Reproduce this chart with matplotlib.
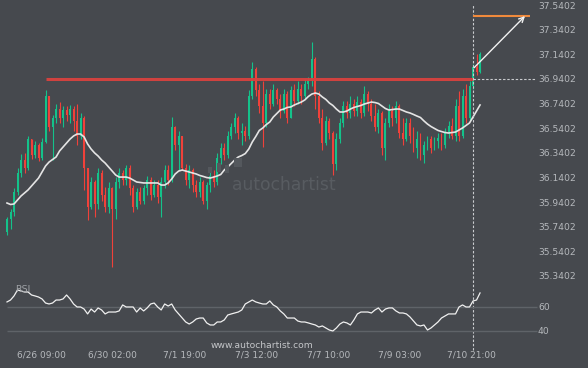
import numpy as np
import matplotlib
matplotlib.use("Agg")
import matplotlib.pyplot as plt
from matplotlib.patches import Rectangle

# ---------------- data ----------------
first_open = 35.70
closes = [35.80, 35.86, 36.02, 36.18, 36.28, 36.22, 36.45, 36.32, 36.40, 36.30,
          36.43, 36.80, 36.55, 36.62, 36.70, 36.62, 36.69, 36.65, 36.70, 36.60,
          36.48, 36.62, 36.22, 35.90, 36.10, 35.92, 36.18, 36.00, 35.90, 36.05,
          35.88, 36.10, 36.18, 36.12, 36.22, 36.05, 35.90, 36.02, 35.95, 36.05,
          36.12, 36.00, 36.08, 35.98, 36.10, 36.20, 36.12, 36.55, 36.40, 36.48,
          36.22, 36.12, 36.20, 36.08, 36.02, 36.10, 35.95, 36.08, 36.15, 36.10,
          36.30, 36.38, 36.32, 36.48, 36.55, 36.62, 36.50, 36.52, 36.48, 36.80,
          37.02, 36.85, 36.72, 36.58, 36.82, 36.74, 36.85, 36.78, 36.68, 36.82,
          36.62, 36.85, 36.76, 36.86, 36.80, 36.90, 36.92, 37.10, 36.80, 36.62,
          36.42, 36.60, 36.50, 36.25, 36.45, 36.58, 36.72, 36.66, 36.74, 36.68,
          36.75, 36.66, 36.82, 36.74, 36.64, 36.55, 36.66, 36.38, 36.58, 36.68,
          36.62, 36.72, 36.50, 36.45, 36.58, 36.48, 36.38, 36.45, 36.32, 36.40,
          36.45, 36.38, 36.44, 36.46, 36.40, 36.50, 36.56, 36.48, 36.72, 36.48,
          36.80, 36.62, 36.88, 37.04, 37.00, 37.14]
highs = [35.82, 35.88, 36.05, 36.22, 36.33, 36.34, 36.48, 36.43, 36.44, 36.42,
         36.46, 36.85, 36.80, 36.65, 36.74, 36.75, 36.72, 36.72, 36.73, 36.72,
         36.74, 36.66, 36.64, 36.18, 36.14, 36.12, 36.22, 36.20, 36.06, 36.10,
         36.06, 36.14, 36.22, 36.20, 36.24, 36.24, 36.08, 36.05, 36.06, 36.08,
         36.15, 36.14, 36.12, 36.12, 36.14, 36.24, 36.24, 36.63, 36.56, 36.52,
         36.46, 36.25, 36.24, 36.22, 36.12, 36.14, 36.12, 36.10, 36.20, 36.20,
         36.34, 36.42, 36.42, 36.52, 36.58, 36.66, 36.64, 36.58, 36.56, 36.85,
         37.08, 37.04, 36.90, 36.92, 36.86, 36.86, 36.90, 36.87, 36.82, 36.86,
         36.84, 36.88, 36.90, 36.92, 36.90, 36.94, 36.96, 37.24, 37.12, 36.84,
         36.70, 36.64, 36.62, 36.52, 36.50, 36.62, 36.76, 36.76, 36.80, 36.78,
         36.80, 36.78, 36.88, 36.84, 36.78, 36.74, 36.70, 36.68, 36.62, 36.74,
         36.72, 36.76, 36.74, 36.62, 36.62, 36.62, 36.55, 36.52, 36.50, 36.44,
         36.48, 36.48, 36.47, 36.50, 36.50, 36.54, 36.60, 36.62, 36.78, 36.84,
         36.86, 36.90, 36.92, 37.06, 37.14, 37.16]
lows = [35.67, 35.72, 35.83, 36.00, 36.14, 36.18, 36.20, 36.29, 36.30, 36.27,
        36.28, 36.42, 36.52, 36.28, 36.58, 36.58, 36.55, 36.60, 36.58, 36.52,
        36.40, 36.45, 36.04, 35.79, 35.88, 35.82, 35.88, 35.95, 35.86, 35.85,
        35.41, 35.80, 36.05, 36.08, 36.08, 36.00, 35.86, 35.88, 35.92, 35.92,
        36.00, 35.96, 35.98, 35.93, 35.82, 36.05, 36.08, 36.10, 36.36, 36.20,
        36.20, 36.08, 36.05, 36.02, 35.98, 35.98, 35.92, 35.88, 36.02, 36.06,
        36.08, 36.25, 36.28, 36.30, 36.45, 36.50, 36.45, 36.40, 36.44, 36.45,
        36.78, 36.80, 36.66, 36.39, 36.55, 36.70, 36.72, 36.74, 36.62, 36.66,
        36.58, 36.62, 36.72, 36.74, 36.74, 36.78, 36.86, 36.88, 36.70, 36.58,
        36.36, 36.40, 36.45, 36.16, 36.20, 36.42, 36.55, 36.62, 36.62, 36.64,
        36.64, 36.62, 36.64, 36.68, 36.60, 36.52, 36.50, 36.32, 36.28, 36.55,
        36.56, 36.58, 36.46, 36.40, 36.44, 36.42, 36.35, 36.30, 36.28, 36.26,
        36.36, 36.34, 36.36, 36.38, 36.36, 36.38, 36.46, 36.45, 36.44, 36.44,
        36.46, 36.58, 36.60, 36.86, 36.97, 36.99]
moving_avg = [35.932, 35.920, 35.924, 35.956, 35.989, 36.013, 36.038, 36.070, 36.103, 36.135,
              36.184, 36.233, 36.265, 36.286, 36.306, 36.355, 36.387, 36.420, 36.452, 36.477,
              36.493, 36.493, 36.469, 36.412, 36.371, 36.339, 36.314, 36.282, 36.257, 36.225,
              36.192, 36.160, 36.143, 36.143, 36.143, 36.135, 36.119, 36.103, 36.099, 36.095,
              36.095, 36.095, 36.095, 36.095, 36.078, 36.078, 36.095, 36.127, 36.168, 36.192,
              36.200, 36.192, 36.184, 36.176, 36.168, 36.156, 36.148, 36.139, 36.135, 36.143,
              36.152, 36.164, 36.200, 36.225, 36.253, 36.282, 36.306, 36.318, 36.334, 36.371,
              36.428, 36.473, 36.522, 36.542, 36.570, 36.591, 36.631, 36.660, 36.688, 36.696,
              36.709, 36.713, 36.729, 36.741, 36.753, 36.770, 36.798, 36.818, 36.826, 36.818,
              36.794, 36.774, 36.745, 36.725, 36.696, 36.672, 36.672, 36.680, 36.696, 36.709,
              36.717, 36.725, 36.737, 36.745, 36.753, 36.749, 36.741, 36.721, 36.700, 36.688,
              36.692, 36.696, 36.696, 36.684, 36.672, 36.664, 36.652, 36.639, 36.627, 36.599,
              36.574, 36.554, 36.538, 36.522, 36.513, 36.505, 36.501, 36.505, 36.509, 36.526,
              36.542, 36.562, 36.583, 36.631, 36.680, 36.729]
rsi = [63.8, 65.4, 68.8, 73.8, 72.9, 72.1, 72.1, 69.6, 68.8, 67.9,
       66.3, 62.9, 62.1, 62.9, 65.4, 65.4, 66.3, 69.6, 66.3, 62.1,
       59.6, 59.6, 57.9, 53.8, 57.9, 55.4, 58.8, 57.1, 53.8, 55.4,
       55.4, 55.4, 56.3, 61.3, 59.6, 59.6, 59.6, 55.4, 58.8, 56.3,
       58.8, 62.1, 62.9, 59.6, 57.1, 62.1, 60.4, 62.1, 57.1, 53.8,
       50.4, 47.1, 45.4, 47.1, 49.6, 50.4, 50.4, 46.3, 44.6, 44.6,
       47.1, 47.1, 48.8, 52.9, 53.8, 54.6, 55.4, 57.1, 62.1, 63.8,
       65.4, 63.8, 62.9, 62.1, 62.1, 64.6, 61.3, 59.6, 56.3, 53.8,
       50.4, 50.4, 50.4, 47.9, 47.1, 47.1, 46.3, 45.4, 44.6, 42.9,
       43.8, 42.1, 40.4, 39.6, 42.1, 45.4, 47.1, 46.3, 44.6, 48.8,
       53.8, 55.4, 55.4, 55.4, 54.6, 57.1, 58.8, 55.4, 57.9, 58.8,
       58.8, 56.3, 54.6, 54.6, 53.8, 51.3, 47.9, 44.6, 43.8, 44.6,
       40.4, 42.1, 44.6, 47.1, 50.4, 52.1, 53.8, 53.8, 53.8, 59.6,
       61.3, 59.6, 59.6, 64.6, 65.4, 71.3]

resistance = 36.9402
target = 37.452
arrow_start = 37.032
price_ticks = [35.3402, 35.5402, 35.7402, 35.9402, 36.1402, 36.3402,
               36.5402, 36.7402, 36.9402, 37.1402, 37.3402, 37.5402]
rsi_ticks = [40, 60]
date_labels = ["6/26 09:00", "6/30 02:00", "7/1 19:00", "7/3 12:00",
               "7/7 10:00", "7/9 03:00", "7/10 21:00"]
breakout_idx = 133

# ---------------- style ----------------
BG = "#46494e"
GREEN = "#14c28a"
RED = "#f0413a"
TXT = "#b6b9bd"

W, H = 588, 368
spacing = 3.504          # px per candle
x0_px = 7
fig = plt.figure(figsize=(W / 100, H / 100), dpi=100)
fig.patch.set_facecolor(BG)

ax = fig.add_axes([0, 0, 1, 1])
ax.set_facecolor(BG)
axr = fig.add_axes([0, 0, 1, 1], sharex=ax)
axr.patch.set_alpha(0)

ax.set_xlim(-x0_px / spacing, (W - x0_px) / spacing)
ppu = 123.0
ax.set_ylim(36.9402 - (H - 79) / ppu, 36.9402 + 79 / ppu)
rpu = 1.2
axr.set_ylim(60 - (H - 306.5) / rpu, 60 + 306.5 / rpu)

for a in (ax, axr):
    for s in a.spines.values():
        s.set_visible(False)

# watermark (logo bars + word), pixel coords from bottom-left
WM = "#54585d"
for (bx, by, bw, bh_) in [(208, H - 173, 4, 6), (217, H - 172, 4, 9),
                          (225, H - 173, 4, 8), (234, H - 167, 8, 9)]:
    fig.patches.append(Rectangle((bx, by), bw, bh_, transform=None,
                                 facecolor=WM, edgecolor="none", zorder=0.5))
ax.text(284, H - 185, "autochartist", transform=None, fontsize=12.3, color="#585c61",
        ha="center", va="center", zorder=0.5)

# candles
n = len(closes)
idx = np.arange(n)
opens = [first_open] + closes[:-1]
o = np.array(opens)
c = np.array(closes)
h = np.maximum(np.array(highs), np.maximum(o, c))
l = np.minimum(np.array(lows), np.minimum(o, c))
cols = [GREEN if cc >= oo else RED for oo, cc in zip(o, c)]
ax.vlines(idx, l, h, colors=cols, linewidth=0.8, zorder=2)
bh = np.abs(c - o)
bh = np.where(bh < 0.008, 0.008, bh)
ax.bar(idx, bh, bottom=np.minimum(o, c), width=0.55, color=cols,
       linewidth=0, zorder=2)

# moving average
ax.plot(np.arange(len(moving_avg)), moving_avg, color="#e4e4e4", lw=1.2, zorder=3)

# resistance line
ax.hlines(resistance, 11.1, breakout_idx, color="#d9423f", lw=2.2, alpha=0.95, zorder=4)
ax.hlines(resistance, breakout_idx, (536 - x0_px) / spacing, color="#c9cbce",
          lw=0.8, linestyles=(0, (2.2, 1.6)), zorder=4)
ax.axvline(breakout_idx, ymin=1 - 350 / H, ymax=1 - 5 / H, color="#c9cbce",
           lw=0.8, ls=(0, (2.2, 1.6)), zorder=4)
# target line and arrow
ax.hlines(target, breakout_idx, (530 - x0_px) / spacing, color="#f08a3c", lw=1.5, zorder=4)
ax.annotate("", xy=((525 - x0_px) / spacing, target), xytext=(breakout_idx + 0.3, arrow_start),
            arrowprops=dict(arrowstyle="->", color="#f2f2f2", lw=1.0,
                            shrinkA=0, shrinkB=0, mutation_scale=9), zorder=5)

# price ticks (right side, inside)
ax.yaxis.tick_right()
ax.set_yticks(price_ticks)
ax.set_yticklabels([f"{p:.4f}" for p in price_ticks])
ax.tick_params(axis="y", length=0, pad=-36, labelsize=6.6, labelcolor=TXT)

# date ticks
tick_first, tick_step = 9.7, 20.49
ax.set_xticks([tick_first + k * tick_step for k in range(len(date_labels))])
ax.set_xticklabels(date_labels)
ax.tick_params(axis="x", length=0, pad=-12.6, labelsize=6.5, labelcolor=TXT)

# RSI panel
axr.hlines(rsi_ticks, 0, (537 - x0_px) / spacing, color="#5f6368", lw=1.0, zorder=1)
axr.plot(np.arange(len(rsi)), rsi, color="#f0f0f0", lw=0.9, zorder=3)
axr.yaxis.tick_right()
axr.set_yticks(rsi_ticks)
axr.set_yticklabels([str(v) for v in rsi_ticks])
axr.tick_params(axis="y", length=0, pad=-36, labelsize=6.6, labelcolor=TXT)
axr.tick_params(axis="x", bottom=False, labelbottom=False)
axr.text(15, H - 290, "RSI", transform=None, fontsize=6.8, color="#9fa2a6",
         ha="left", va="center", zorder=4)

# footer watermark
ax.text(262, H - 345, "www.autochartist.com", transform=None, fontsize=6.6,
        color="#c4c6c9", ha="center", va="center")

fig.savefig("out.png", dpi=100, facecolor=BG)
